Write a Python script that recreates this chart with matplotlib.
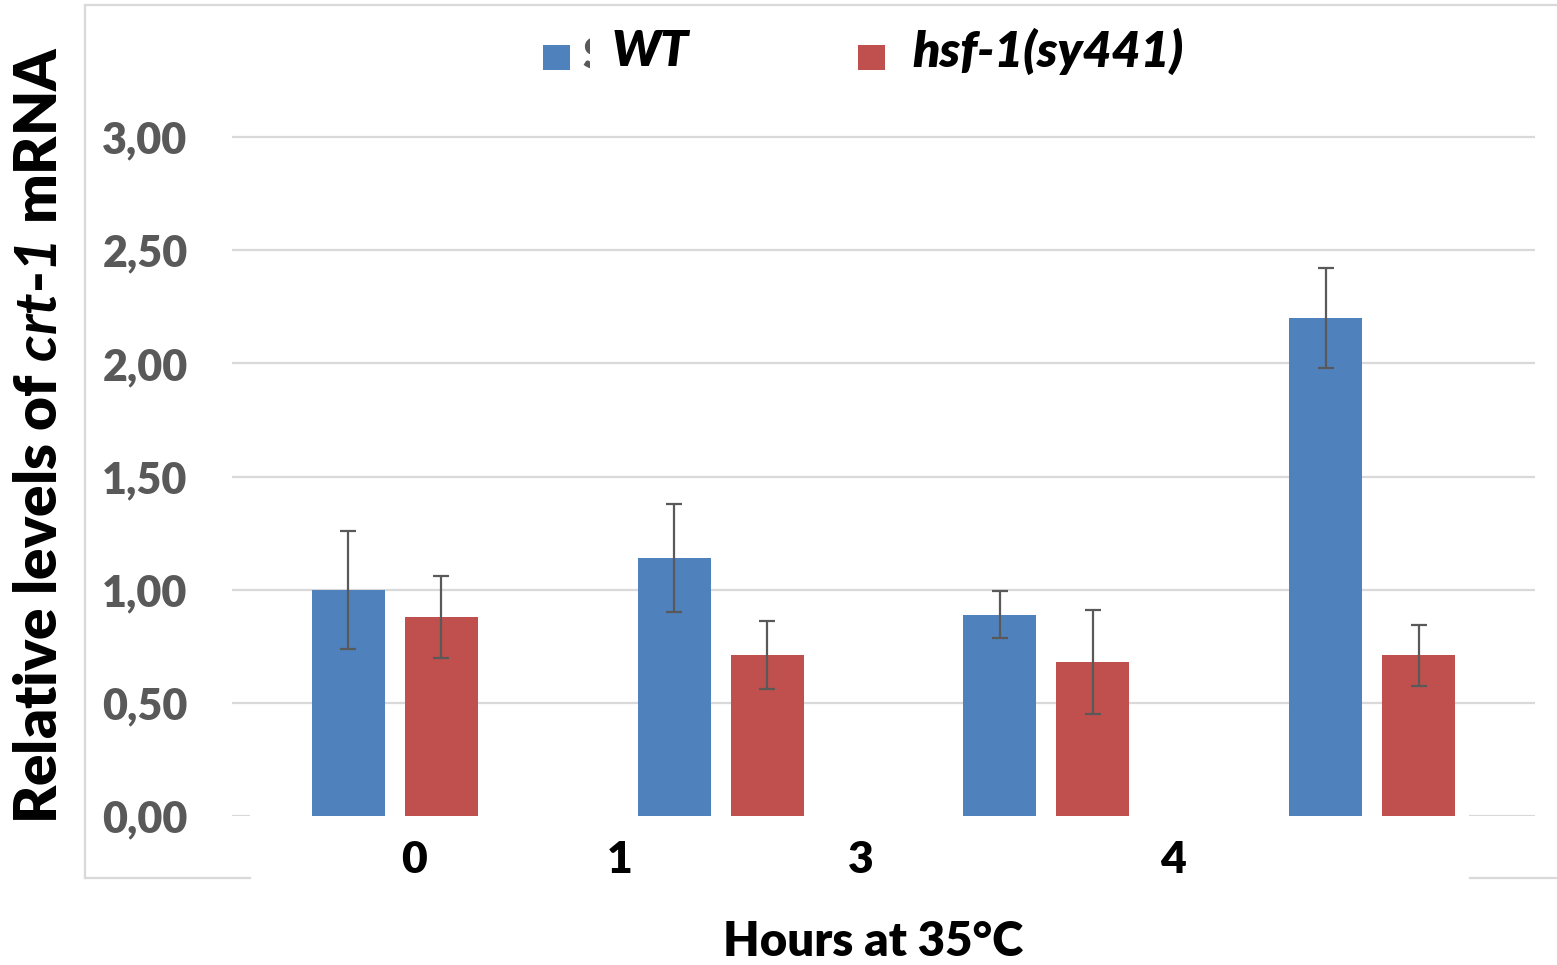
import matplotlib.pyplot as plt
import numpy as np
from matplotlib.lines import Line2D
from matplotlib.patches import Rectangle

# Datos
horas = ["0", "1", "3", "4"]
wt = [1.00, 1.14, 0.89, 2.20]
wt_err = [0.26, 0.24, 0.105, 0.22]
hsf = [0.88, 0.71, 0.68, 0.71]
hsf_err = [0.18, 0.15, 0.23, 0.135]
etiquetas_y = ["0,00", "0,50", "1,00", "1,50", "2,00", "2,50", "3,00"]

# Posición (desplazada) de las etiquetas del eje x, como en el original
pos_etiquetas = [0.06, 0.69, 1.43, 2.39]

plt.rcParams['font.family'] = ['Lato', 'DejaVu Sans']
plt.rcParams['mathtext.fontset'] = 'custom'
plt.rcParams['mathtext.bfit'] = 'Lato:italic:bold'

azul = "#4F81BD"
rojo = "#C0504D"
gris = "#595959"
gris_claro = "#D9D9D9"

fig = plt.figure(figsize=(15.57, 9.65), dpi=100)
W, H = 1557, 965
ax = fig.add_axes([232 / W, 1 - 816 / H, (1535 - 232) / W, (816 - 24) / H])

x = np.arange(len(horas))
ancho = 0.224
sep = 0.143
ax.bar(x - sep, wt, ancho, color=azul, zorder=3,
       yerr=wt_err, error_kw=dict(ecolor=gris, elinewidth=1.6, capsize=6, capthick=1.6))
ax.bar(x + sep, hsf, ancho, color=rojo, zorder=3,
       yerr=hsf_err, error_kw=dict(ecolor=gris, elinewidth=1.6, capsize=6, capthick=1.6))

ax.set_xlim(-0.5, 3.5)
ax.set_ylim(0, 3.5)
ax.set_yticks(np.arange(0, 3.01, 0.5), etiquetas_y)
ax.set_xticks(pos_etiquetas, horas)
ax.set_axisbelow(True)
ax.yaxis.grid(True, color=gris_claro, linewidth=1.6)
for s in ax.spines.values():
    s.set_visible(False)
ax.tick_params(axis='y', length=0, pad=32, labelsize=31, labelcolor=gris)
ax.tick_params(axis='x', length=0, pad=17, labelsize=32, labelcolor='black')
for t in ax.get_yticklabels() + ax.get_xticklabels():
    t.set_fontweight('heavy')

# tapa la línea base bajo las barras (como en el original)
ax.add_patch(Rectangle((-0.445, -0.02), 3.742, 0.03, facecolor='white',
                       edgecolor='none', zorder=2))

# marco exterior gris claro
def linea(x0, y0, x1, y1):
    fig.add_artist(Line2D([x0 / W, x1 / W], [1 - y0 / H, 1 - y1 / H],
                          color=gris_claro, linewidth=1.6))

linea(85, 5, 85, 878)
linea(85, 5, 1557, 5)
linea(85, 878, 250, 878)
linea(1470, 878, 1557, 878)

# leyenda manual
fig.add_artist(Rectangle((543 / W, 1 - 70 / H), 27 / W, 25 / H,
                         transform=fig.transFigure, facecolor=azul, edgecolor='none'))
fig.add_artist(Rectangle((858 / W, 1 - 70 / H), 27 / W, 25 / H,
                         transform=fig.transFigure, facecolor=rojo, edgecolor='none'))
s_gris = fig.text(582 / W, 1 - 56 / H, "S", fontsize=32, color=gris, fontweight='heavy',
                  va='center', ha='left')
recorte = Rectangle((580 / W, 0), 10 / W, 1, transform=fig.transFigure)
s_gris.set_clip_path(recorte)
fig.text(612 / W, 1 - 51 / H, "WT", fontsize=36, color='black', fontweight='heavy',
         fontstyle='italic', va='center', ha='left')
fig.text(912 / W, 1 - 51 / H, "hsf-1(sy441)", fontsize=36, color='black',
         fontweight='heavy', fontstyle='italic', va='center', ha='left')

# títulos de ejes
fig.text(40 / W, 1 - 435 / H, r"Relative levels of $\mathbfit{crt}$-$\mathbfit{1}$ mRNA",
         rotation=90, fontsize=42, fontweight='heavy', va='center', ha='center')
fig.text(873 / W, 1 - 942 / H, "Hours at 35°C", fontsize=34, fontweight='heavy',
         va='center', ha='center')

plt.savefig("out.png", dpi=100)
